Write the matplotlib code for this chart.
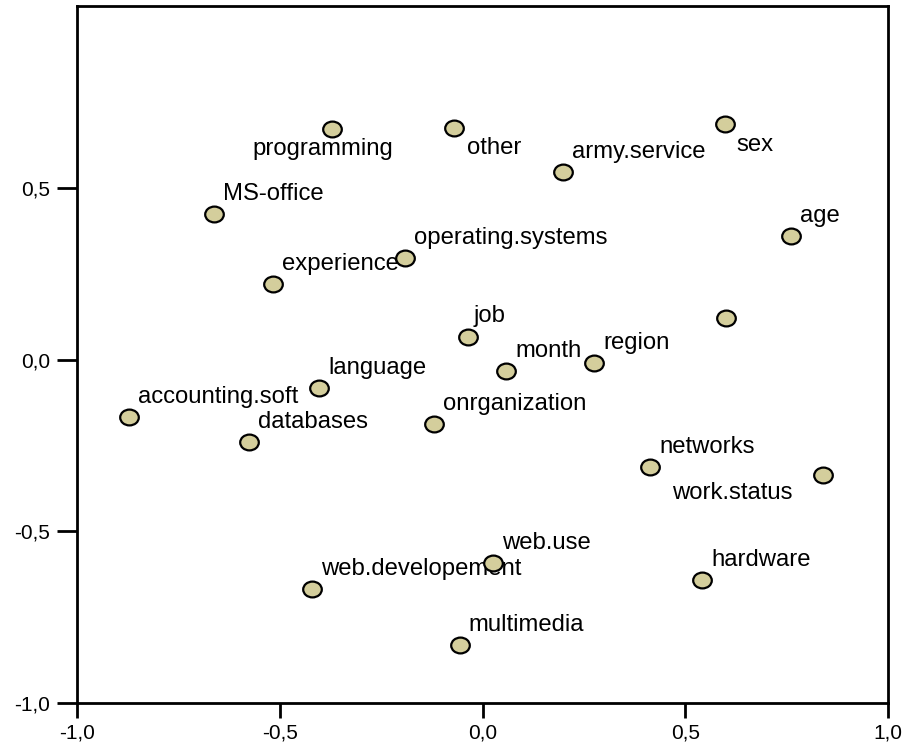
import matplotlib
matplotlib.use("Agg")
import matplotlib.pyplot as plt
from matplotlib.path import Path
from matplotlib.transforms import Affine2D

# puntos del grafico (coordenadas de las dimensiones)
etiquetas = ["programming", "other", "army.service", "sex", "MS-office", "age",
             "operating.systems", "experience", "", "job", "language", "month",
             "region", "accounting.soft", "databases", "onrganization",
             "networks", "work.status", "web.developement", "web.use",
             "hardware", "multimedia"]
dim1 = [-0.372, -0.072, 0.198, 0.597, -0.664, 0.761,
        -0.192, -0.518, 0.601, -0.036, -0.404, 0.058,
        0.275, -0.874, -0.576, -0.121,
        0.413, 0.839, -0.421, 0.025,
        0.541, -0.057]
dim2 = [0.673, 0.676, 0.549, 0.688, 0.426, 0.362,
        0.298, 0.222, 0.121, 0.066, -0.081, -0.031,
        -0.010, -0.167, -0.238, -0.188,
        -0.311, -0.335, -0.668, -0.593,
        -0.641, -0.831]

xticks = [-1.0, -0.5, 0.0, 0.5, 1.0]
yticks = [-1.0, -0.5, 0.0, 0.5]

# desplazamiento de cada etiqueta en pixeles (x, y hacia arriba)
desplaz_especial = {
    "programming": (-80, -26, "left"),
    "other": (13, -26, "left"),
    "sex": (12, -27, "left"),
    "work.status": (-30, -24, "right"),
    "job": (5, 15, "left"),
}

plt.rcParams['font.family'] = ['Liberation Sans', 'DejaVu Sans']

fig = plt.figure(figsize=(9.07, 7.48), dpi=100)
ax = fig.add_axes([0.0854, 0.0602, 0.8936, 0.9318])

elipse = Path.unit_circle().transformed(Affine2D().scale(1.0, 0.85))
ax.plot(dim1, dim2, linestyle="none", marker=elipse, markersize=13.4,
        markerfacecolor="#D4CE9C", markeredgecolor="black",
        markeredgewidth=1.6, zorder=3, clip_on=False)

for nombre, x, y in zip(etiquetas, dim1, dim2):
    if not nombre:
        continue
    dx, dy, ha = desplaz_especial.get(nombre, (9, 14, "left"))
    ax.annotate(nombre, (x, y), xytext=(dx, dy), textcoords="offset pixels",
                ha=ha, va="baseline", fontsize=17.2, zorder=2)

ax.set_xlim(-1.0, 1.0)
ax.set_ylim(-1.0, 1.032)
ax.set_xticks(xticks)
ax.set_yticks(yticks)
ax.set_xticklabels([f"{t:.1f}".replace(".", ",") for t in xticks])
ax.set_yticklabels([f"{t:.1f}".replace(".", ",") for t in yticks])
ax.tick_params(axis="both", direction="out", width=2, labelsize=15)
ax.tick_params(axis="x", length=11, pad=4)
ax.tick_params(axis="y", length=14.5, pad=5)
for lado in ax.spines.values():
    lado.set_linewidth(2)

fig.savefig("out.png", dpi=100)
